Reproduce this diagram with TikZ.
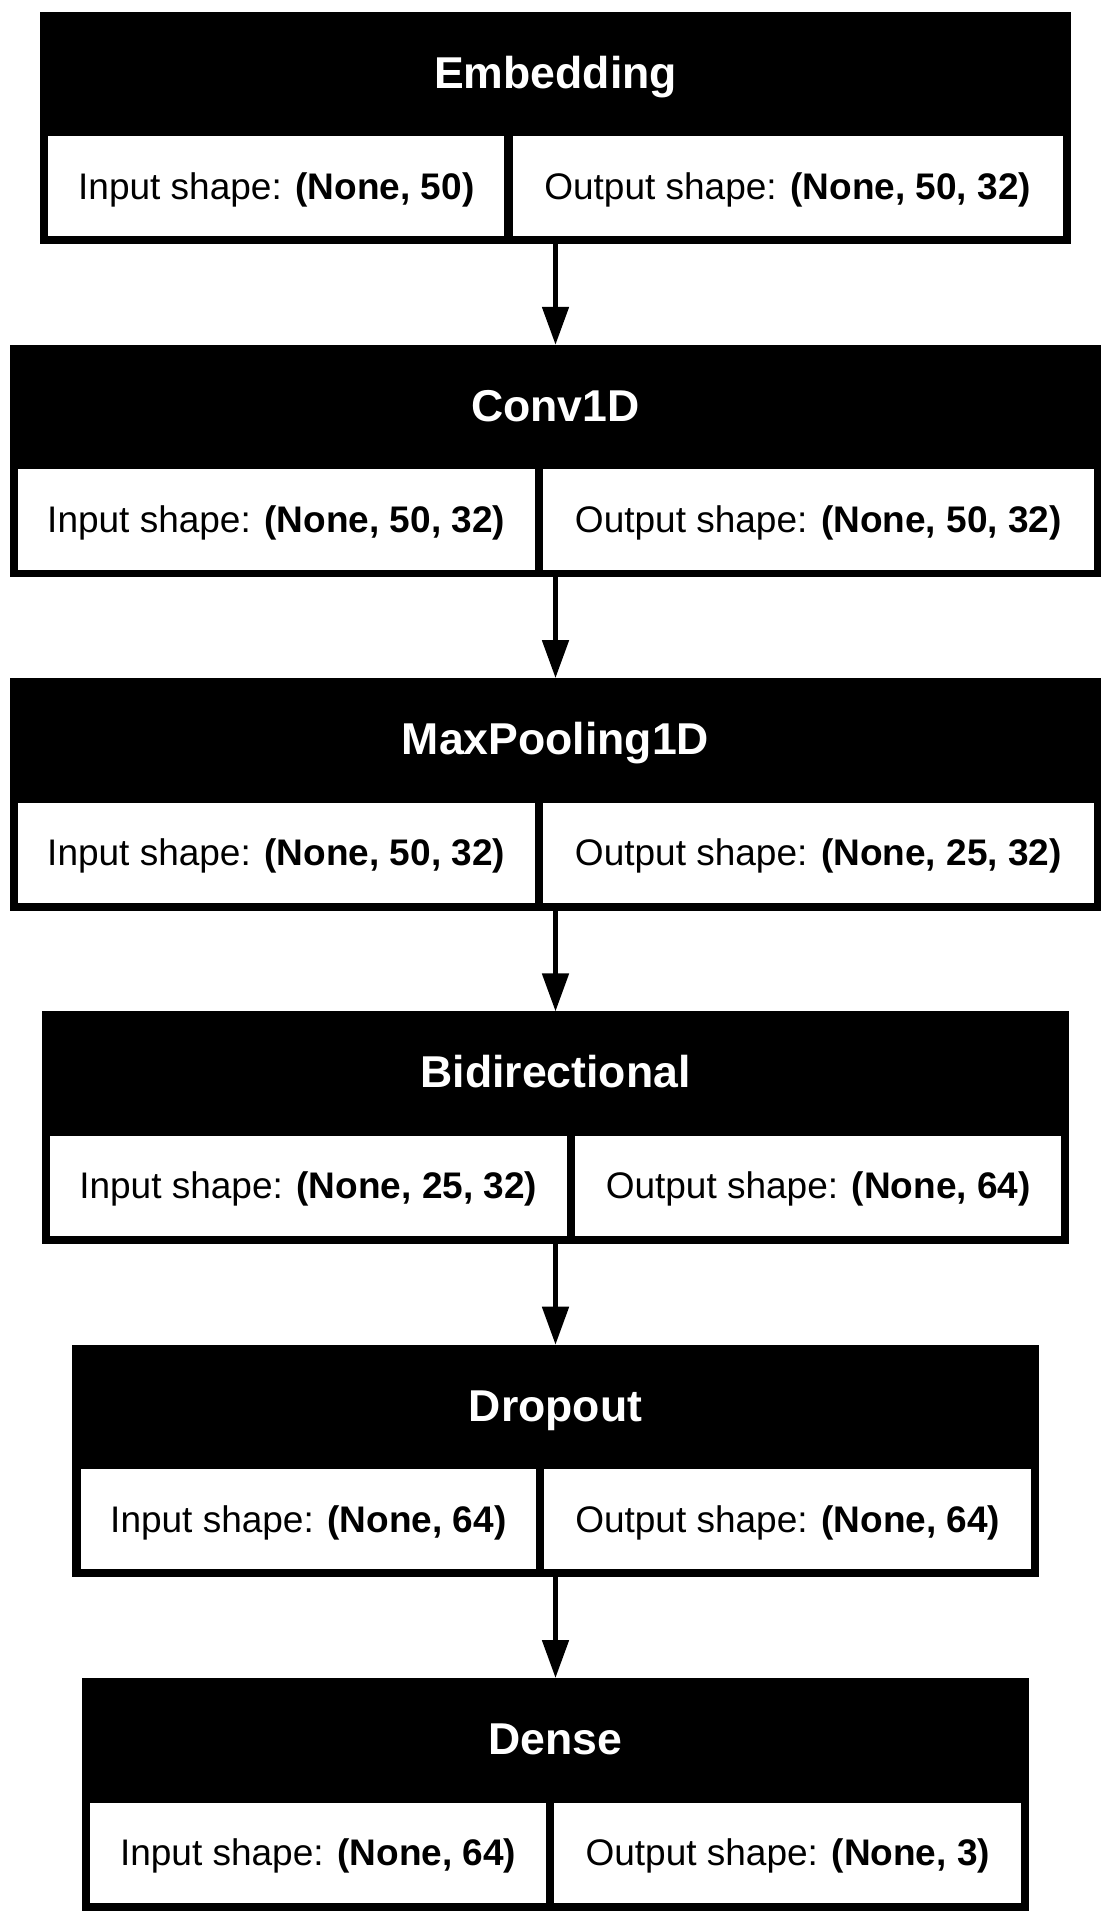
\documentclass[tikz,border=0pt]{standalone}
\usepackage{fontspec}
\setmainfont{Liberation Sans}
\usetikzlibrary{arrows.meta}

\begin{document}
\begin{tikzpicture}
    [
        x=0.5pt,y=-0.5pt,
        Layer/.style={rectangle,fill=black,inner sep=0pt,outer sep=0pt,minimum height=116.25pt},
        Title/.style={anchor=base,text=white,inner sep=0pt,font=\bfseries\fontsize{22.3}{26}\selectfont},
        Cell/.style={rectangle,fill=white,inner sep=0pt,outer sep=0pt,minimum height=50.1pt,text height=16.9pt,text depth=4pt,font=\fontsize{18.5}{22}\selectfont},
        Flow/.style={line width=2.5pt,-{Triangle[length=19pt,width=13pt]}}
    ]
    \useasboundingbox (0,0) rectangle (1111,1922);

    \node[Layer,minimum width=515.15pt] (Embedding) at (555.5,127.75) {};
    \node[Layer,minimum width=545.95pt] (Conv1D) at (555.5,461.05) {};
    \node[Layer,minimum width=545.95pt] (MaxPooling1D) at (555.5,794.35) {};
    \node[Layer,minimum width=513.8pt] (Bidirectional) at (555.5,1127.65) {};
    \node[Layer,minimum width=483.2pt] (Dropout) at (555.5,1460.95) {};
    \node[Layer,minimum width=473.45pt] (Dense) at (555.5,1794.25) {};

    \node[Title] (title_Embedding) at (555.5,88) {Embedding};
    \node[Title] (title_Conv1D) at (555.5,421.3) {Conv1D};
    \node[Title] (title_MaxPooling1D) at (555.5,754.6) {MaxPooling1D};
    \node[Title] (title_Bidirectional) at (555.5,1087.9) {Bidirectional};
    \node[Title] (title_Dropout) at (555.5,1421.2) {Dropout};
    \node[Title] (title_Dense) at (555.5,1754.5) {Dense};

    \node[Cell,minimum width=228.1pt] (input_Embedding) at (276.3,186.1) {Input shape: \textbf{(None, 50)}};
    \node[Cell,minimum width=274.85pt] (output_Embedding) at (787.65,186.1) {Output shape: \textbf{(None, 50, 32)}};
    \node[Cell,minimum width=258.6pt] (input_Conv1D) at (276.2,519.4) {Input shape: \textbf{(None, 50, 32)}};
    \node[Cell,minimum width=275.15pt] (output_Conv1D) at (818.35,519.4) {Output shape: \textbf{(None, 50, 32)}};
    \node[Cell,minimum width=258.6pt] (input_MaxPooling1D) at (276.2,852.7) {Input shape: \textbf{(None, 50, 32)}};
    \node[Cell,minimum width=275.15pt] (output_MaxPooling1D) at (818.35,852.7) {Output shape: \textbf{(None, 25, 32)}};
    \node[Cell,minimum width=258.55pt] (input_Bidirectional) at (308.25,1186) {Input shape: \textbf{(None, 25, 32)}};
    \node[Cell,minimum width=243.05pt] (output_Bidirectional) at (818.25,1186) {Output shape: \textbf{(None, 64)}};
    \node[Cell,minimum width=227.65pt] (input_Dropout) at (308.35,1519.3) {Input shape: \textbf{(None, 64)}};
    \node[Cell,minimum width=243.35pt] (output_Dropout) at (787.75,1519.3) {Output shape: \textbf{(None, 64)}};
    \node[Cell,minimum width=227.85pt] (input_Dense) at (318.15,1852.6) {Input shape: \textbf{(None, 64)}};
    \node[Cell,minimum width=233.4pt] (output_Dense) at (787.8,1852.6) {Output shape: \textbf{(None, 3)}};

    \draw[Flow] (Embedding.south) -- (Conv1D.north);
    \draw[Flow] (Conv1D.south) -- (MaxPooling1D.north);
    \draw[Flow] (MaxPooling1D.south) -- (Bidirectional.north);
    \draw[Flow] (Bidirectional.south) -- (Dropout.north);
    \draw[Flow] (Dropout.south) -- (Dense.north);
\end{tikzpicture}
\end{document}
